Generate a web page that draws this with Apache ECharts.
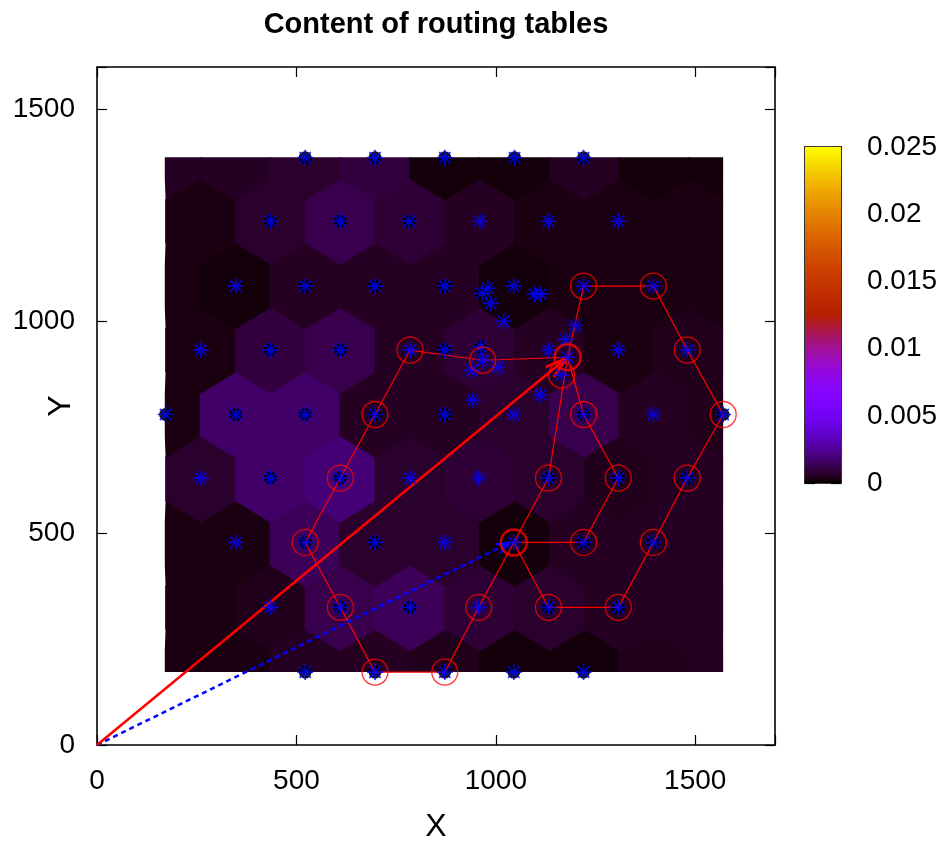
<!DOCTYPE html>
<html><head><meta charset="utf-8">
<script src="https://cdn.jsdelivr.net/npm/echarts@6/dist/echarts.min.js"></script>
<style>html,body{margin:0;padding:0;background:#fff}#c{width:945px;height:842px}</style>
</head><body><div id="c"></div>
<script>
// ---------------- data ----------------
const titleText = 'Content of routing tables';
const xTicks = [0, 500, 1000, 1500];
const yTicks = [0, 500, 1000, 1500];
const cbTicks = [0, 0.005, 0.01, 0.015, 0.02, 0.025];

// heat map cells (hexagonal lattice), rows bottom -> top
const heatRowY = [172, 324, 476, 628, 780, 932, 1084, 1236, 1388];
const heatColsEven = [172, 347, 522, 697, 872, 1047, 1222, 1397, 1572];
const heatColsOdd = [260, 435, 610, 785, 960, 1135, 1310, 1485];
const heatRow172  = [0.00028, 0.00028, 0.00055, 0.00055, 0.0004, 0.00015, 0.00015, 0.0004, 0.00055];
const heatRow324  = [0.00028, 0.0004, 0.0012, 0.0014, 0.00085, 0.0007, 0.00055, 0.00055];
const heatRow476  = [0.00028, 0.00028, 0.0014, 0.0007, 0.0007, 0.00015, 0.00055, 0.00055, 0.00055];
const heatRow628  = [0.0007, 0.00165, 0.0019, 0.0007, 0.00085, 0.0007, 0.0004, 0.00055];
const heatRow780  = [0.00028, 0.00165, 0.00165, 0.00055, 0.00055, 0.0007, 0.0012, 0.00055, 0.0004];
const heatRow932  = [0.00028, 0.001, 0.0012, 0.00055, 0.00085, 0.00055, 0.00028, 0.0004];
const heatRow1084 = [0.00028, 0.00015, 0.00055, 0.00055, 0.00055, 0.00015, 0.00028, 0.00028, 0.00028];
const heatRow1236 = [0.00028, 0.0007, 0.0012, 0.00085, 0.00055, 0.00028, 0.00028, 0.00028];
const heatRow1388 = [0.00055, 0.00055, 0.0007, 0.001, 0.00015, 0.00015, 0.00055, 0.00015, 0.00015];

// node positions
const nodes = [
 [522,1386],[697,1386],[872,1386],[1047,1386],[1220,1386],
 [435,1236],[610,1236],[783,1236],[960,1236],[1132,1236],[1307,1236],
 [348,1083],[522,1083],[697,1083],[872,1083],[1045,1083],[1220,1083],[1395,1083],
 [965,1066],[980,1078],[987,1042],[1097,1064],[1113,1064],[1020,1000],[1200,990],[1175,957],
 [260,932],[435,932],[610,932],[785,932],[872,932],[962,939],[967,908],[1132,932],[1180,915],[1307,932],[1480,932],
 [1005,892],[940,884],[1165,873],[942,814],[1112,826],
 [172,780],[348,780],[522,780],[697,780],[872,780],[1045,780],[1220,780],[1395,780],[1570,780],
 [260,630],[435,630],[610,630],[785,630],[957,630],[1132,630],[1307,630],[1480,630],
 [348,478],[522,478],[697,478],[872,478],[1045,478],[1220,478],[1395,478],
 [435,325],[610,325],[785,325],[957,325],[1132,325],[1307,325],
 [522,172],[697,172],[872,172],[1045,172],[1220,172]
];
const darkNodes = [
 [522,1386],[697,1386],[872,1386],[1047,1386],[1220,1386],
 [435,1236],[610,1236],[783,1236],
 [522,1083],[697,1083],[872,1083],[965,1066],
 [435,932],[610,932],[872,932],[962,939],
 [172,780],[348,780],[522,780],[697,780],[872,780],[1220,780],[1570,780],
 [435,630],[610,630],[1132,630],[1307,630],[1480,630],
 [522,478],[697,478],[1220,478],[1395,478],
 [610,325],[785,325],[1132,325],[1307,325],
 [522,172],[697,172],[872,172],[1045,172],[1220,172]
];
const circled = [
 [785,932],[967,908],[1165,873],[697,780],[610,630],[522,478],[610,325],[697,172],[872,172],
 [957,325],[1132,630],[1220,780],[1307,630],[1220,478],[1132,325],[1307,325],[1395,478],
 [1480,630],[1570,780],[1480,932],[1395,1083],[1220,1083]
];
const circledBold = [[1180,915],[1045,478]];
const routeA = [[1180,915],[967,908],[785,932],[697,780],[610,630],[522,478],[610,325],[697,172],[872,172],[957,325],[1045,478],[1132,630],[1180,915]];
const routeB = [[1180,915],[1220,780],[1307,630],[1220,478],[1045,478]];
const routeC = [[1180,915],[1220,1083],[1395,1083],[1480,932],[1570,780],[1480,630],[1395,478],[1307,325],[1132,325],[1045,478]];
const arrowRed = [0, 0, 1180, 915];
const arrowBlue = [0, 0, 1032, 476];

// ---------------- styling / helpers ----------------
const FONT = "'Liberation Sans', Arial, sans-serif";
const HEX_R = 103;
const HEAT_BOX = [170, 1570, 172, 1387];
const HEX_ANG = [90, 30, -30, -90, -150, 150].map(d => d * Math.PI / 180);

function gp(t) { // gnuplot default palette (rgbformulae 7,5,15)
  const r = Math.sqrt(t), g = t * t * t, b = Math.max(0, Math.sin(2 * Math.PI * t));
  return 'rgb(' + Math.round(255 * r) + ',' + Math.round(255 * g) + ',' + Math.round(255 * b) + ')';
}
const paletteColors = [];
for (let i = 0; i <= 400; i++) paletteColors.push(gp(i / 400));
const gradStops = [];
for (let i = 0; i <= 100; i++) gradStops.push({ offset: i / 100, color: gp(i / 100) });

const heatRows = [heatRow172, heatRow324, heatRow476, heatRow628, heatRow780, heatRow932, heatRow1084, heatRow1236, heatRow1388];
const heatData = [];
heatRowY.forEach((y, i) => {
  const cols = i % 2 === 0 ? heatColsEven : heatColsOdd;
  heatRows[i].forEach((v, j) => heatData.push([cols[j], y, v]));
});

function renderHex(params, api) {
  const cx = api.value(0), cy = api.value(1);
  const pts = HEX_ANG.map(a => {
    const x = Math.min(Math.max(cx + HEX_R * Math.cos(a), HEAT_BOX[0]), HEAT_BOX[1]);
    const y = Math.min(Math.max(cy + HEX_R * Math.sin(a), HEAT_BOX[2]), HEAT_BOX[3]);
    return api.coord([x, y]);
  });
  const c = api.visual('color');
  return { type: 'polygon', shape: { points: pts }, style: { fill: c } };
}

function makeArrow(color, width, dash, headLen, headDeg) {
  return function (params, api) {
    const p0 = api.coord([api.value(0), api.value(1)]);
    const p1 = api.coord([api.value(2), api.value(3)]);
    const ang = Math.atan2(p1[1] - p0[1], p1[0] - p0[0]);
    const a = headDeg * Math.PI / 180;
    const b1 = [p1[0] - headLen * Math.cos(ang - a), p1[1] - headLen * Math.sin(ang - a)];
    const b2 = [p1[0] - headLen * Math.cos(ang + a), p1[1] - headLen * Math.sin(ang + a)];
    return { type: 'group', children: [
      { type: 'line', shape: { x1: p0[0], y1: p0[1], x2: p1[0], y2: p1[1] },
        style: { stroke: color, lineWidth: width, lineDash: dash } },
      { type: 'polyline', shape: { points: [b1, p1, b2] },
        style: { stroke: color, lineWidth: width, fill: null } }
    ] };
  };
}

const axisLine = { show: true, onZero: false, lineStyle: { color: '#000', width: 1.6 } };
const axisTick = { show: true, inside: true, length: 10, lineStyle: { color: '#000', width: 1.2 } };
const tickFmt = v => (xTicks.indexOf(v) >= 0 ? String(v) : '');
const tickFmtY = v => (yTicks.indexOf(v) >= 0 ? String(v) : '');
const labelStyle = { color: '#000', fontSize: 28, fontFamily: FONT };

const chart = echarts.init(document.getElementById('c'), null, { renderer: 'canvas' });
chart.setOption({
  animation: false,
  backgroundColor: '#fff',
  title: {
    text: titleText, left: 431, top: 5, textAlign: 'center',
    textStyle: { fontSize: 29, fontWeight: 'bold', fontFamily: FONT, color: '#000' }
  },
  grid: [
    { left: 97, top: 67, width: 678, height: 678, outerBoundsMode: 'none', containLabel: false },
    { left: 805, top: 147, width: 36, height: 336, outerBoundsMode: 'none', containLabel: false }
  ],
  visualMap: {
    type: 'continuous', show: false, seriesIndex: 0, dimension: 2,
    min: cbTicks[0], max: cbTicks[cbTicks.length - 1], inRange: { color: paletteColors }
  },
  xAxis: [
    { gridIndex: 0, type: 'value', position: 'bottom', min: 0, max: 1700, interval: 500,
      axisLine, axisTick,
      axisLabel: Object.assign({ margin: 22, formatter: tickFmt }, labelStyle), splitLine: { show: false },
      name: 'X', nameLocation: 'middle', nameGap: 66, nameMoveOverlap: false,
      nameTextStyle: { fontSize: 32, fontFamily: FONT, color: '#000' } },
    { gridIndex: 0, type: 'value', position: 'top', min: 0, max: 1700, interval: 500,
      axisLine, axisTick, axisLabel: { show: false }, splitLine: { show: false } },
    { gridIndex: 1, type: 'value', position: 'bottom', min: 0, max: 1,
      axisLine, axisTick: { show: false }, axisLabel: { show: false }, splitLine: { show: false } },
    { gridIndex: 1, type: 'value', position: 'top', min: 0, max: 1,
      axisLine, axisTick: { show: false }, axisLabel: { show: false }, splitLine: { show: false } }
  ],
  yAxis: [
    { gridIndex: 0, type: 'value', position: 'left', min: 0, max: 1600, interval: 500,
      axisLine, axisTick,
      axisLabel: Object.assign({ margin: 22, formatter: tickFmtY }, labelStyle), splitLine: { show: false },
      name: 'Y', nameLocation: 'middle', nameGap: 20, nameRotate: 90, nameMoveOverlap: false,
      nameTextStyle: { fontSize: 32, fontFamily: FONT, color: '#000' } },
    { gridIndex: 0, type: 'value', position: 'right', min: 0, max: 1600, interval: 500,
      axisLine, axisTick, axisLabel: { show: false }, splitLine: { show: false } },
    { gridIndex: 1, type: 'value', position: 'right', min: cbTicks[0], max: cbTicks[cbTicks.length - 1], interval: 0.005,
      axisLine, axisTick,
      axisLabel: Object.assign({ margin: 26 }, labelStyle), splitLine: { show: false } },
    { gridIndex: 1, type: 'value', position: 'left', min: cbTicks[0], max: cbTicks[cbTicks.length - 1], interval: 0.005,
      axisLine, axisTick, axisLabel: { show: false }, splitLine: { show: false } }
  ],
  series: [
    { type: 'custom', name: 'heat', xAxisIndex: 0, yAxisIndex: 0, data: heatData,
      renderItem: renderHex, encode: { x: 0, y: 1 }, silent: true, z: 1, clip: true },
    { type: 'custom', name: 'colorbar', xAxisIndex: 2, yAxisIndex: 2,
      data: [[0, cbTicks[0], cbTicks[cbTicks.length - 1]]], encode: { x: 0, y: [1, 2] }, silent: true, z: 1,
      renderItem: function (params, api) {
        const p0 = api.coord([0, api.value(1)]);
        const p1 = api.coord([1, api.value(2)]);
        return { type: 'rect', shape: { x: p0[0], y: p1[1], width: p1[0] - p0[0], height: p0[1] - p1[1] },
          style: { fill: new echarts.graphic.LinearGradient(0, 1, 0, 0, gradStops) } };
      } },
    { type: 'scatter', name: 'dark', xAxisIndex: 0, yAxisIndex: 0, data: darkNodes, symbol: 'circle', symbolSize: 13,
      itemStyle: { color: '#000', opacity: 0.9 }, silent: true, z: 2 },
    { type: 'lines', name: 'routes', coordinateSystem: 'cartesian2d', xAxisIndex: 0, yAxisIndex: 0, polyline: true,
      data: [{ coords: routeA }, { coords: routeB }, { coords: routeC }],
      lineStyle: { color: '#ff0000', width: 1.2, opacity: 1, curveness: 0 }, silent: true, z: 3 },
    { type: 'custom', name: 'arrowBlue', xAxisIndex: 0, yAxisIndex: 0, data: [arrowBlue], encode: { x: [0, 2], y: [1, 3] },
      renderItem: makeArrow('#0000ff', 2.5, [5, 4], 13, 22), silent: true, z: 4 },
    { type: 'custom', name: 'arrowRed', xAxisIndex: 0, yAxisIndex: 0, data: [arrowRed], encode: { x: [0, 2], y: [1, 3] },
      renderItem: makeArrow('#ff0000', 2.5, null, 24, 15), silent: true, z: 4 },
    { type: 'scatter', name: 'nodes', xAxisIndex: 0, yAxisIndex: 0, data: nodes,
      symbol: 'path://M0,8L16,8M8,0L8,16M2.3,2.3L13.7,13.7M13.7,2.3L2.3,13.7', symbolSize: 16,
      itemStyle: { color: 'transparent', borderColor: '#0000ff', borderWidth: 1.7 }, silent: true, z: 5 },
    { type: 'scatter', name: 'circled', xAxisIndex: 0, yAxisIndex: 0, data: circled, symbol: 'circle', symbolSize: 26,
      itemStyle: { color: 'transparent', borderColor: '#ff0000', borderWidth: 1.3 }, silent: true, z: 6 },
    { type: 'scatter', name: 'circledBold', xAxisIndex: 0, yAxisIndex: 0, data: circledBold, symbol: 'circle', symbolSize: 26,
      itemStyle: { color: 'transparent', borderColor: '#ff0000', borderWidth: 2.4 }, silent: true, z: 6 }
  ]
});
</script></body></html>
